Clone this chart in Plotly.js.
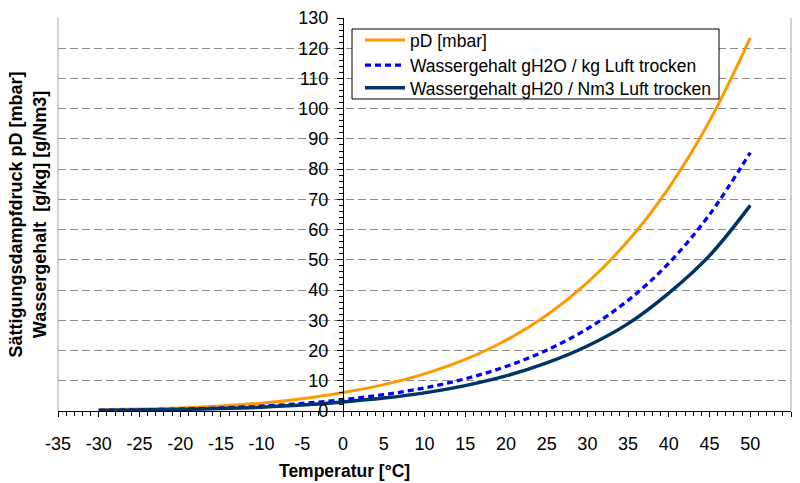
<!DOCTYPE html>
<html>
<head>
<meta charset="utf-8">
<script src="https://cdn.plot.ly/plotly-3.0.1.min.js"></script>
<style>html,body{margin:0;padding:0;background:#fff;}#chart{width:800px;height:483px;}</style>
</head>
<body>
<div id="chart"></div>
<script>
// Data
const temperatures = [-30, -25, -20, -15, -10, -5, 0, 5, 10, 15, 20, 25, 30, 35, 40, 45, 50];
const pD_mbar = [0.38, 0.63, 1.03, 1.65, 2.60, 4.02, 6.11, 8.72, 12.28, 17.05, 23.39, 31.69, 42.46, 56.29, 73.84, 95.9, 123.4];
const water_g_per_kg = [0.23, 0.39, 0.63, 1.01, 1.60, 2.48, 3.77, 5.40, 7.63, 10.65, 14.7, 20.1, 27.2, 36.6, 48.9, 65.0, 85.5];
const water_g_per_Nm3 = [0.18, 0.31, 0.50, 0.80, 1.26, 1.96, 2.98, 4.27, 6.0, 8.4, 11.6, 15.9, 21.5, 28.9, 39.0, 51.4, 68.0];

const xTickVals = [-35, -30, -25, -20, -15, -10, -5, 0, 5, 10, 15, 20, 25, 30, 35, 40, 45, 50, 55];
const xTickText = ["-35", "-30", "-25", "-20", "-15", "-10", "-5", "0", "5", "10", "15", "20", "25", "30", "35", "40", "45", "50", "55"];

const seriesNames = ["pD [mbar]", "Wassergehalt gH2O / kg Luft trocken", "Wassergehalt gH20 / Nm3 Luft trocken"];

const FONT = "Arial, 'Liberation Sans', sans-serif";
const TICKFONT = {family: FONT, size: 18, color: "#000"};
const LEGFONT = {family: FONT, size: 17.5, color: "#000"};

const traces = [
  {x: temperatures, y: pD_mbar, name: seriesNames[0], mode: "lines", legend: "legend",
   line: {color: "#FF9900", width: 3, shape: "spline"}},
  {x: temperatures, y: water_g_per_kg, name: seriesNames[1], mode: "lines", legend: "legend2",
   line: {color: "#0000FF", width: 3.3, dash: "6px,4px", shape: "spline"}},
  {x: temperatures, y: water_g_per_Nm3, name: seriesNames[2], mode: "lines", legend: "legend3",
   line: {color: "#003366", width: 3.5, shape: "spline"}}
];

function legendAt(y, itemwidth) {
  return {x: 0.412, y: y, xanchor: "left", yanchor: "middle",
          bgcolor: "rgba(0,0,0,0)", borderwidth: 0, itemwidth: itemwidth,
          font: LEGFONT};
}

const layout = {
  width: 800, height: 483,
  margin: {l: 58, r: 9, t: 18, b: 72},
  paper_bgcolor: "#ffffff", plot_bgcolor: "#ffffff",
  font: {family: FONT, size: 17, color: "#000"},
  showlegend: true,
  legend: legendAt(0.944, 40),
  legend2: legendAt(0.880, 40),
  legend3: legendAt(0.822, 40),
  xaxis: {
    range: [-35, 55], tickmode: "array", tickvals: xTickVals, ticktext: xTickText,
    showgrid: false, zeroline: false, showline: true, linecolor: "#000", linewidth: 1,
    ticks: "outside", ticklen: 5, tickcolor: "#000", tickwidth: 1,
    ticklabelstandoff: 11,
    minor: {dtick: 1, ticks: "outside", ticklen: 4, tickcolor: "#000", tickwidth: 1, showgrid: false},
    tickfont: TICKFONT,
    fixedrange: true
  },
  yaxis: {
    range: [0, 130], dtick: 10, tick0: 0,
    anchor: "free", position: 0.3888, side: "left",
    showgrid: true, gridcolor: "#8c8c8c", gridwidth: 1, griddash: "8px,4px",
    zeroline: false, showline: true, linecolor: "#000", linewidth: 1,
    ticks: "outside", ticklen: 6, tickcolor: "#000", tickwidth: 1,
    ticklabelstandoff: 5,
    minor: {dtick: 2, ticks: "outside", ticklen: 4, tickcolor: "#000", tickwidth: 1, showgrid: false},
    tickfont: TICKFONT,
    automargin: false, fixedrange: true
  },
  shapes: [
    {type: "line", xref: "paper", yref: "paper", x0: 0, x1: 0, y0: 0, y1: 1, line: {color: "#a6a6a6", width: 1}},
    {type: "line", xref: "paper", yref: "paper", x0: 1, x1: 1, y0: 0, y1: 1, line: {color: "#a6a6a6", width: 1}},
    {type: "rect", xref: "paper", yref: "paper", x0: 0.4011, x1: 0.9018, y0: 0.7939, y1: 0.972,
     layer: "above", fillcolor: "#ffffff", line: {color: "#000000", width: 1}}
  ],
  annotations: [
    {text: "<b>Sättigungsdampfdruck pD [mbar]</b><br><b>Wassergehalt  [g/kg] [g/Nm3]</b>",
     xref: "paper", yref: "paper", x: -0.041, y: 0.5, xanchor: "center", yanchor: "middle",
     textangle: -90, showarrow: false, font: {family: FONT, size: 18, color: "#000"}},
    {text: "<b>Temperatur [°C]</b>",
     xref: "paper", yref: "paper", x: 0.3915, y: -0.153, xanchor: "center", yanchor: "middle",
     showarrow: false, font: {family: FONT, size: 17.5, color: "#000"}}
  ]
};

Plotly.newPlot("chart", traces, layout, {displayModeBar: false, staticPlot: true});
</script>
</body>
</html>
